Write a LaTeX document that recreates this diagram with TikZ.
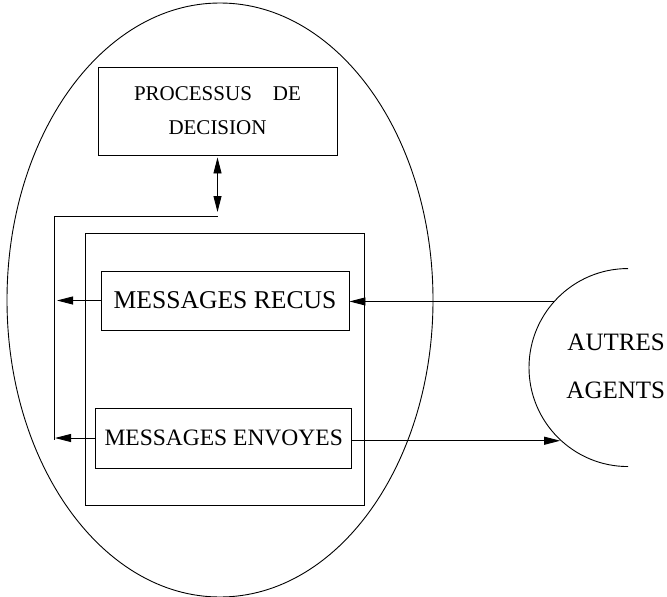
\documentclass[tikz,border=0pt]{standalone}
\usepackage{fontspec}
\setmainfont{Liberation Serif}
\usetikzlibrary{arrows.meta}

\begin{document}
\begin{tikzpicture}[x=1pt,y=-1pt,line width=0.9pt,
  boite/.style={draw,inner sep=0pt},
  fleche/.style={-{Triangle[length=16pt,width=8pt]}},
  fleches/.style={{Triangle[length=16pt,width=8pt]}-{Triangle[length=16pt,width=8pt]}}]
\useasboundingbox (0,0) rectangle (667,597);
% agent
\draw (220,300) ellipse (213 and 297);
\node[boite,minimum width=239,minimum height=88,align=center,
  font=\fontsize{21}{34}\selectfont] (decision) at (217.5,111) {PROCESSUS\quad DE\\DECISION};
\node[boite,minimum width=279,minimum height=272] (memoire) at (224.5,369) {};
\node[boite,minimum width=248,minimum height=59,
  font=\fontsize{25.6}{30}\selectfont] (recus) at (225,300.5) {MESSAGES RECUS};
\node[boite,minimum width=256,minimum height=60,
  font=\fontsize{23.5}{28}\selectfont] (envoyes) at (223.7,438) {MESSAGES ENVOYES};
%% autres agents
\node[circle,minimum size=198,inner sep=0pt] (autres) at (628,368) {};
\draw (autres.90) arc (270:90:99);
\node[anchor=west,inner sep=0pt,font=\fontsize{25}{28}\selectfont] (lblautres) at (567,342) {AUTRES};
\node[anchor=west,inner sep=0pt,font=\fontsize{25}{28}\selectfont] (lblagents) at (566,390) {AGENTS};
% liaisons
\coordinate (haut) at (217.5,216);
\coordinate (bas) at (54,440);
\draw (haut) -| (bas);
\draw[fleches,shorten <=2pt,shorten >=4pt] (decision.south) -- (haut);
\draw[fleche,shorten >=3pt] (recus.west) -- (recus.west -| bas);
\draw[fleche,shorten >=1pt] (envoyes.west) -- (envoyes.west -| bas);
\draw[fleche] (autres.138) -- (autres.138 -| recus.east);
\draw[fleche] (envoyes.east |- autres.227) -- (autres.227);
\end{tikzpicture}
\end{document}
